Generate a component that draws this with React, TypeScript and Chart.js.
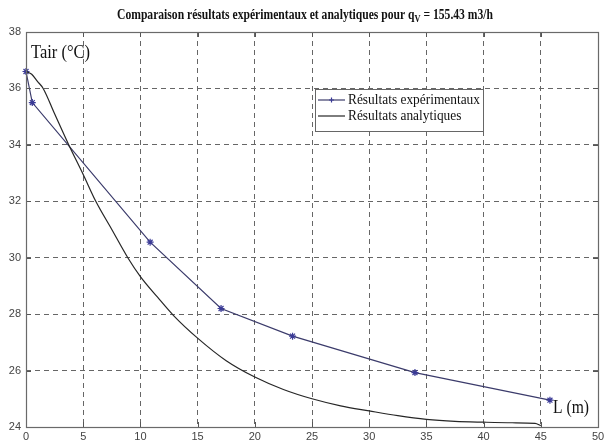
import React, { useEffect, useRef } from "react";
import { Chart, registerables } from "chart.js";

Chart.register(...registerables);

// ---- Data ----
const expX = [0, 0.55, 10.85, 17.05, 23.3, 34.0, 45.8];
const expY = [36.6, 35.5, 30.55, 28.2, 27.22, 25.93, 24.95];

const anaX = [0, 0.5, 1, 1.5, 2.5, 3.7, 5, 6.1, 7.5, 8.9, 10, 11.5, 12.9, 15, 17.5, 20, 22.5, 25, 27.5, 30, 32.5, 35, 37.5, 40, 42.5, 44.5, 45];
const anaY = [36.6, 36.5, 36.25, 36.0, 35.1, 34.03, 32.95, 32.0, 31.0, 30.0, 29.33, 28.6, 27.95, 27.15, 26.35, 25.77, 25.33, 25.0, 24.75, 24.57, 24.4, 24.27, 24.2, 24.17, 24.15, 24.13, 24.05];

const xTicks = [0, 5, 10, 15, 20, 25, 30, 35, 40, 45, 50];
const yTicks = [24, 26, 28, 30, 32, 34, 36, 38];

const titleMain = "Comparaison résultats expérimentaux et analytiques pour q";
const titleSub = "V";
const titleEnd = " = 155.43 m3/h";
const yAxisLabel = "Tair (°C)";
const xAxisLabel = "L (m)";
const legendLabels = ["Résultats expérimentaux", "Résultats analytiques"];

const EXP_LINE = "#3b3b6b";
const EXP_MARK = "#3a3a96";
const ANA_LINE = "#262626";

function fitText(ctx: CanvasRenderingContext2D, text: string, x: number, y: number, font: string, width: number) {
  ctx.font = font;
  const w = ctx.measureText(text).width;
  ctx.save();
  ctx.translate(x, y);
  ctx.scale(width / w, 1);
  ctx.fillText(text, 0, 0);
  ctx.restore();
}

const overlayPlugin = {
  id: "overlay",
  afterDraw(chart: any) {
    const ctx: CanvasRenderingContext2D = chart.ctx;
    const a = chart.chartArea;
    const xs = chart.scales.x;
    const ys = chart.scales.y;
    ctx.save();

    // inward tick marks
    ctx.strokeStyle = "#555";
    ctx.lineWidth = 1;
    ctx.setLineDash([]);
    ctx.beginPath();
    xTicks.forEach((t) => {
      const px = Math.round(xs.getPixelForValue(t)) + 0.5;
      ctx.moveTo(px, a.bottom);
      ctx.lineTo(px, a.bottom - 5);
      ctx.moveTo(px, a.top);
      ctx.lineTo(px, a.top + 5);
    });
    yTicks.forEach((t) => {
      const py = Math.round(ys.getPixelForValue(t)) + 0.5;
      ctx.moveTo(a.left, py);
      ctx.lineTo(a.left + 5, py);
      ctx.moveTo(a.right, py);
      ctx.lineTo(a.right - 5, py);
    });
    ctx.stroke();

    // box
    ctx.strokeStyle = "#6a6a6a";
    ctx.lineWidth = 1.2;
    ctx.strokeRect(Math.round(a.left) + 0.5, Math.round(a.top) + 0.5, Math.round(a.right - a.left), Math.round(a.bottom - a.top));

    // title
    const mainFont = "bold 14px 'Liberation Serif'";
    const subFont = "bold 10px 'Liberation Serif'";
    ctx.font = mainFont;
    const w1 = ctx.measureText(titleMain).width;
    const w3 = ctx.measureText(titleEnd).width;
    ctx.font = subFont;
    const w2 = ctx.measureText(titleSub).width;
    const total = w1 + w2 + w3;
    const targetW = 376;
    const s = targetW / total;
    ctx.save();
    ctx.translate(305, 15);
    ctx.scale(s, 1);
    ctx.fillStyle = "#111";
    ctx.textBaseline = "middle";
    ctx.textAlign = "left";
    let x0 = -total / 2;
    ctx.font = mainFont;
    ctx.fillText(titleMain, x0, 0);
    x0 += w1;
    ctx.font = subFont;
    ctx.fillText(titleSub, x0, 4);
    x0 += w2;
    ctx.font = mainFont;
    ctx.fillText(titleEnd, x0, 0);
    ctx.restore();

    // axis annotations
    ctx.fillStyle = "#111";
    ctx.textBaseline = "middle";
    ctx.textAlign = "left";
    fitText(ctx, yAxisLabel, 31, 53, "18px 'Liberation Serif'", 59);
    fitText(ctx, xAxisLabel, 553, 408, "18px 'Liberation Serif'", 36);

    // legend
    const lx = 315, ly = 89, lw = 168, lh = 42;
    ctx.fillStyle = "#fff";
    ctx.fillRect(lx, ly, lw, lh);
    ctx.strokeStyle = "#666";
    ctx.lineWidth = 1;
    ctx.strokeRect(lx + 0.5, ly + 0.5, lw, lh);
    const rows = [100, 116];
    // row 1
    ctx.strokeStyle = EXP_LINE;
    ctx.lineWidth = 1.2;
    ctx.beginPath();
    ctx.moveTo(318, rows[0]);
    ctx.lineTo(345, rows[0]);
    ctx.stroke();
    ctx.strokeStyle = EXP_MARK;
    ctx.beginPath();
    ctx.moveTo(331.5 - 2.5, rows[0]);
    ctx.lineTo(331.5 + 2.5, rows[0]);
    ctx.moveTo(331.5, rows[0] - 2.5);
    ctx.lineTo(331.5, rows[0] + 2.5);
    ctx.stroke();
    // row 2
    ctx.strokeStyle = ANA_LINE;
    ctx.beginPath();
    ctx.moveTo(318, rows[1]);
    ctx.lineTo(345, rows[1]);
    ctx.stroke();
    const legFont = "15px 'Liberation Serif'";
    ctx.font = legFont;
    const lwText = ctx.measureText(legendLabels[0]).width;
    const ls = 132 / lwText;
    ctx.fillStyle = "#111";
    legendLabels.forEach((t, i) => {
      ctx.font = legFont;
      ctx.save();
      ctx.translate(348, rows[i]);
      ctx.scale(ls, 1);
      ctx.fillText(t, 0, 0);
      ctx.restore();
    });

    ctx.restore();
  },
};

export default function App() {
  const ref = useRef<HTMLCanvasElement | null>(null);
  useEffect(() => {
    if (!ref.current) return;
    const chart = new Chart(ref.current, {
      type: "line",
      data: {
        datasets: [
          {
            label: legendLabels[1],
            data: anaX.map((x, i) => ({ x, y: anaY[i] })),
            borderColor: ANA_LINE,
            borderWidth: 1.2,
            pointRadius: 0,
            cubicInterpolationMode: "monotone",
            fill: false,
          },
          {
            label: legendLabels[0],
            data: expX.map((x, i) => ({ x, y: expY[i] })),
            borderColor: EXP_LINE,
            borderWidth: 1.2,
            pointStyle: "star",
            pointRadius: 3.5,
            pointBorderColor: EXP_MARK,
            pointBackgroundColor: EXP_MARK,
            pointBorderWidth: 1.2,
            tension: 0,
            fill: false,
            clip: false as any,
          },
        ],
      },
      options: {
        animation: false,
        responsive: true,
        maintainAspectRatio: false,
        layout: { padding: { top: 32, right: 11, left: 0, bottom: 0 } },
        plugins: {
          legend: { display: false },
          title: { display: false },
          tooltip: { enabled: false },
        },
        scales: {
          x: {
            type: "linear",
            min: xTicks[0],
            max: xTicks[xTicks.length - 1],
            ticks: {
              stepSize: 5,
              color: "#444",
              font: { family: "'Liberation Sans'", size: 11 },
              padding: 3,
              maxRotation: 0,
              autoSkip: false,
            },
            grid: { color: "#666", drawTicks: false, lineWidth: 1 },
            border: { display: false, dash: [5, 4] },
            afterFit: (s: any) => {
              s.height = 16;
            },
          },
          y: {
            type: "linear",
            min: yTicks[0],
            max: yTicks[yTicks.length - 1],
            ticks: {
              stepSize: 2,
              color: "#444",
              font: { family: "'Liberation Sans'", size: 11 },
              padding: 5,
              autoSkip: false,
            },
            grid: { color: "#666", drawTicks: false, lineWidth: 1 },
            border: { display: false, dash: [5, 4] },
            afterFit: (s: any) => {
              s.width = 26;
            },
          },
        },
      },
      plugins: [overlayPlugin],
    });
    return () => chart.destroy();
  }, []);
  return (
    <div style={{ position: "absolute", left: 0, top: 0, width: 609, height: 443, background: "#fff" }}>
      <canvas ref={ref} />
    </div>
  );
}
